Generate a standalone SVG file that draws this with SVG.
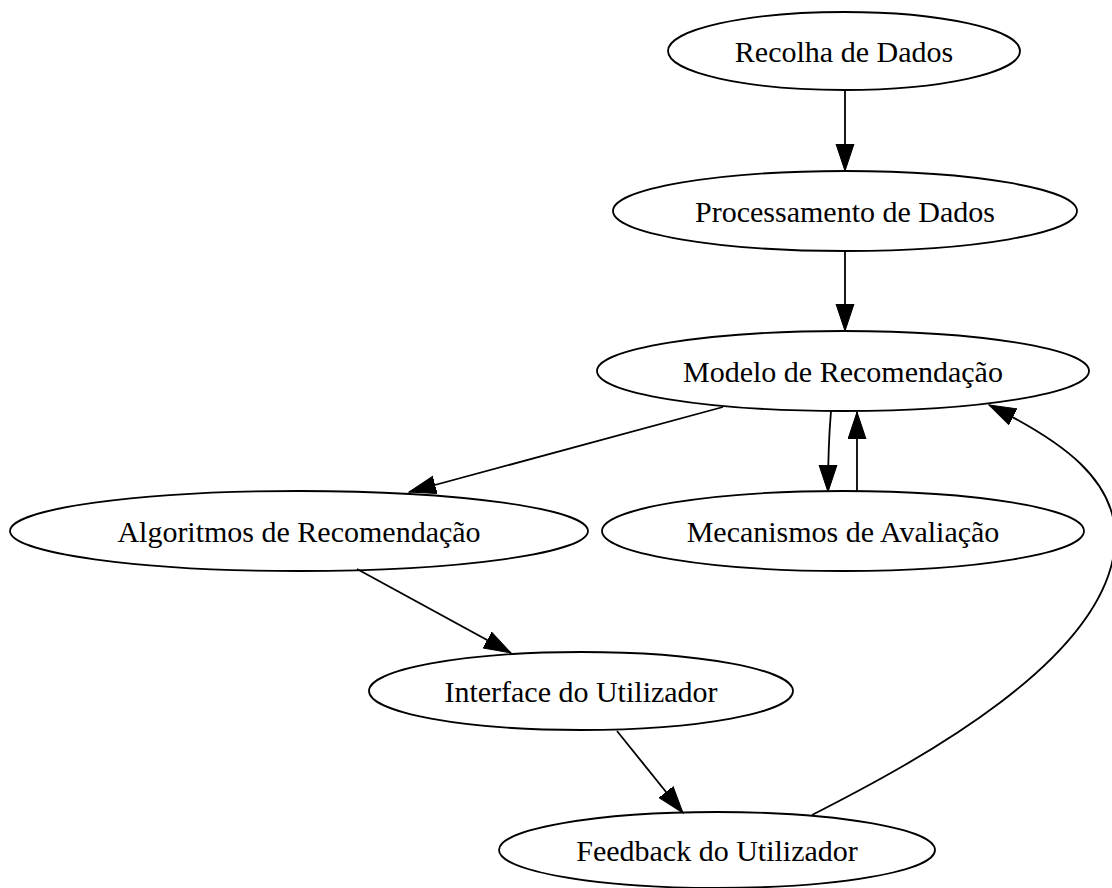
<svg xmlns="http://www.w3.org/2000/svg" width="1112" height="888" viewBox="0 0 1112 888">
<style>
.node ellipse{fill:none;stroke:#000;stroke-width:1.8}
.node text{font-family:"Liberation Serif","Times New Roman",serif;font-size:30px;text-anchor:middle;fill:#000}
.edge{fill:none;stroke:#000;stroke-width:1.8;marker-end:url(#ah)}
</style>
<defs>
<marker id="ah" markerUnits="userSpaceOnUse" markerWidth="28" markerHeight="20" refX="27" refY="9.5" orient="auto" viewBox="0 0 28 20">
<path d="M0,0.5 L27,9.5 L0,18.5 z" fill="#000" stroke="#000" stroke-width="1"/>
</marker>
</defs>
<rect width="1112" height="888" fill="#fff"/>
<g id="edges">
<path class="edge" d="M845,90 L845,171"/>
<path class="edge" d="M845,251 L845,331"/>
<path class="edge" d="M723,407 L409,492"/>
<path class="edge" d="M831,411 C829,435 828,462 828,492"/>
<path class="edge" d="M857,492 C857,468 857,440 857,412"/>
<path class="edge" d="M357,569 L511,653"/>
<path class="edge" d="M617,731 L683,813"/>
<path class="edge" d="M812,815 C920,760 1105,660 1115,545 C1120,480 1060,440 989,405"/>
</g>
<g id="n1" class="node"><ellipse cx="844" cy="51" rx="176" ry="39"/><text x="844" y="62">Recolha de Dados</text></g>
<g id="n2" class="node"><ellipse cx="845" cy="211" rx="232" ry="40"/><text x="845" y="222">Processamento de Dados</text></g>
<g id="n3" class="node"><ellipse cx="843" cy="371" rx="246" ry="40"/><text x="843" y="382">Modelo de Recomendação</text></g>
<g id="n4" class="node"><ellipse cx="299" cy="531" rx="289" ry="40"/><text x="299" y="542">Algoritmos de Recomendação</text></g>
<g id="n5" class="node"><ellipse cx="843" cy="531" rx="241" ry="40"/><text x="843" y="542">Mecanismos de Avaliação</text></g>
<g id="n6" class="node"><ellipse cx="581" cy="691" rx="212" ry="39"/><text x="581" y="702">Interface do Utilizador</text></g>
<g id="n7" class="node"><ellipse cx="717" cy="850" rx="218" ry="38"/><text x="717" y="861">Feedback do Utilizador</text></g>
</svg>
